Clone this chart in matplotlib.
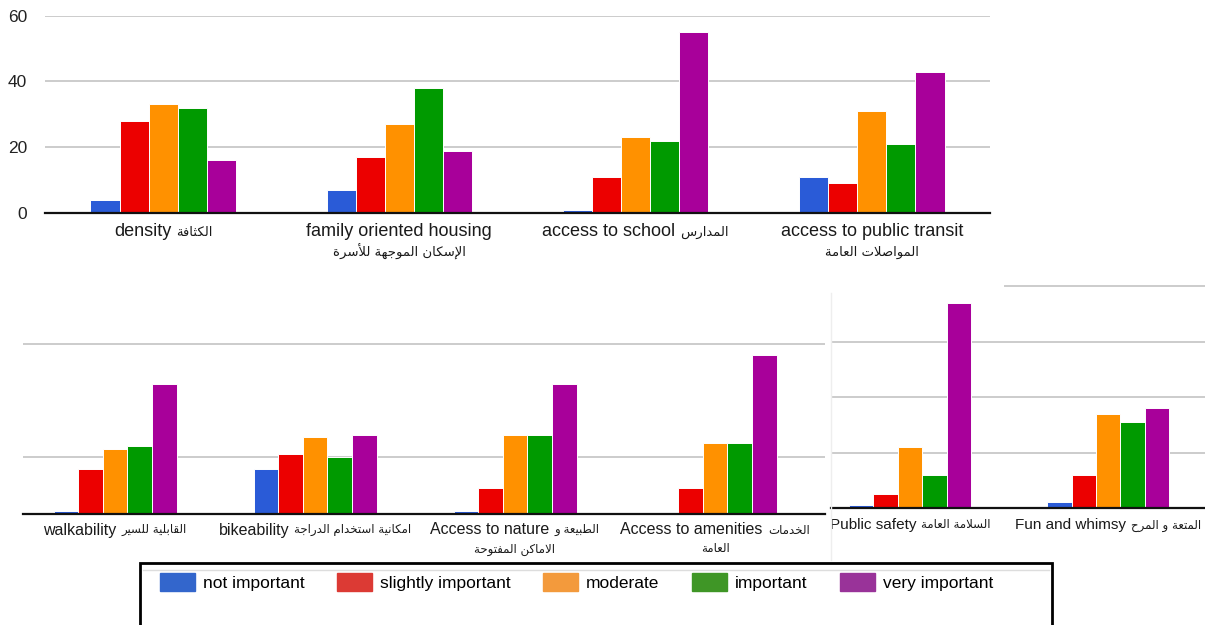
import matplotlib
matplotlib.use('Agg')
import matplotlib.pyplot as plt
from matplotlib.patches import Patch, Rectangle
from matplotlib.lines import Line2D
import numpy as np

plt.rcParams['font.family'] = ['Liberation Sans', 'DejaVu Sans']

W, H = 1205, 625

series = ['not important', 'slightly important', 'moderate', 'important', 'very important']
bar_colors = ['#2a5bd7', '#ec0000', '#ff9100', '#009a00', '#a8009a']
legend_colors = ['#3366cc', '#dc3a34', '#f39a3c', '#3f9626', '#993399']

# upper chart: english label, arabic on the same line, arabic on a second line
top_en = ['density', 'family oriented housing', 'access to school', 'access to public transit']
top_ar = ['الكثافة', '', 'المدارس', '']
top_ar2 = ['', 'الإسكان الموجهة للأسرة', '', 'المواصلات العامة']
top_counts = [
    [4, 7, 1, 11],
    [28, 17, 11, 9],
    [33, 27, 23, 31],
    [32, 38, 22, 21],
    [16, 19, 55, 43],
]

# lower left chart
mid_en = ['walkability', 'bikeability', 'Access to nature', 'Access to amenities']
mid_ar = ['القابلية للسير', 'امكانية استخدام الدراجة', 'الطبيعة و', 'الخدمات']
mid_ar2 = ['', '', 'الاماكن المفتوحة', 'العامة']
mid_counts = [
    [1, 16, 1, 0],
    [16, 21, 9, 9],
    [23, 27, 28, 25],
    [24, 20, 28, 25],
    [46, 28, 46, 56],
]

# lower right chart
side_en = ['Public safety', 'Fun and whimsy']
side_ar = ['السلامة العامة', 'المتعة و المرح']
side_ar2 = ['', '']
side_counts = [
    [1, 2],
    [5, 12],
    [22, 34],
    [12, 31],
    [74, 36],
]

# arabic presentation forms: isolated code point, joins to the following letter
FORMS = {
    'ا': (0xFE8D, False), 'أ': (0xFE83, False), 'إ': (0xFE87, False),
    'ب': (0xFE8F, True), 'ة': (0xFE93, False), 'ت': (0xFE95, True),
    'ث': (0xFE99, True), 'ج': (0xFE9D, True), 'ح': (0xFEA1, True),
    'خ': (0xFEA5, True), 'د': (0xFEA9, False), 'ر': (0xFEAD, False),
    'س': (0xFEB1, True), 'ص': (0xFEB9, True), 'ط': (0xFEC1, True),
    'ع': (0xFEC9, True), 'ف': (0xFED1, True), 'ق': (0xFED5, True),
    'ك': (0xFED9, True), 'ل': (0xFEDD, True), 'م': (0xFEE1, True),
    'ن': (0xFEE5, True), 'ه': (0xFEE9, True), 'و': (0xFEED, False),
    'ي': (0xFEF1, True),
}
LAM_ALEF = {'ا': 0xFEFB, 'أ': 0xFEF7, 'إ': 0xFEF9}


def shape(text):
    # contextual letter forms, then reversed so it reads right to left
    chars = []
    i = 0
    while i < len(text):
        c = text[i]
        if c == 'ل' and i + 1 < len(text) and text[i + 1] in LAM_ALEF:
            chars.append(('LA', text[i + 1]))
            i += 2
        else:
            chars.append((c, None))
            i += 1
    out = []
    for k, (c, alef) in enumerate(chars):
        prev = chars[k - 1][0] if k > 0 else None
        nxt = chars[k + 1][0] if k + 1 < len(chars) else None
        joins_prev = prev in FORMS and FORMS[prev][1]
        if c == 'LA':
            out.append(chr(LAM_ALEF[alef] + (1 if joins_prev else 0)))
            continue
        if c not in FORMS:
            out.append(c)
            continue
        base, dual = FORMS[c]
        joins_next = dual and (nxt in FORMS or nxt == 'LA')
        if joins_prev and joins_next:
            off = 3
        elif joins_prev:
            off = 1
        elif joins_next:
            off = 2
        else:
            off = 0
        out.append(chr(base + off))
    return ''.join(reversed(out))


fig = plt.figure(figsize=(W / 100, H / 100), dpi=100)


def panel(x0, y0, x1, y1):
    ax = fig.add_axes([x0 / W, 1 - y1 / H, (x1 - x0) / W, (y1 - y0) / H])
    for s in ax.spines.values():
        s.set_visible(False)
    ax.spines['bottom'].set_visible(True)
    ax.spines['bottom'].set_color('#111111')
    ax.spines['bottom'].set_linewidth(1.6)
    ax.spines['bottom'].set_zorder(5)
    ax.set_xticks([])
    ax.tick_params(length=0)
    ax.yaxis.grid(True, color='#cccccc', linewidth=1.4)
    ax.set_axisbelow(True)
    return ax


def draw_bars(ax, counts):
    x = np.arange(len(counts[0]))
    width = 0.123
    for i, (vals, c) in enumerate(zip(counts, bar_colors)):
        ax.bar(x + (i - 2) * width, vals, width, color=c, edgecolor='white',
               linewidth=0.7, zorder=3)


labels = []


def add_labels(ax, en, ar, ar2, dy1, dy2, en_size, ar_size):
    for i, (e, a, a2) in enumerate(zip(en, ar, ar2)):
        t1 = ax.annotate(e, xy=(i, 0), xycoords=('data', 'axes fraction'),
                         xytext=(0, -dy1), textcoords='offset pixels',
                         ha='left', va='center', fontsize=en_size, color='#1a1a1a')
        t2 = None
        if a:
            t2 = ax.annotate(shape(a), xy=(i, 0), xycoords=('data', 'axes fraction'),
                             xytext=(0, -dy1), textcoords='offset pixels',
                             ha='left', va='center', fontsize=ar_size,
                             family='DejaVu Sans', color='#1a1a1a')
        labels.append((t1, t2, dy1))
        if a2:
            ax.annotate(shape(a2), xy=(i, 0), xycoords=('data', 'axes fraction'),
                        xytext=(0, -dy2), textcoords='offset pixels',
                        ha='center', va='center', fontsize=ar_size,
                        family='DejaVu Sans', color='#1a1a1a')


# upper chart
ax_top = panel(45, 15.7, 990, 213)
draw_bars(ax_top, top_counts)
ax_top.set_xlim(-0.5, 3.5)
ax_top.set_ylim(0, 60)
ax_top.set_yticks([0, 20, 40, 60])
ax_top.tick_params(axis='y', labelsize=12.5, pad=13, labelcolor='#222222')
add_labels(ax_top, top_en, top_ar, top_ar2, 19, 39, 13, 9.5)

# lower left chart
ax_mid = panel(23, 290, 825, 514)
draw_bars(ax_mid, mid_counts)
ax_mid.set_xlim(-0.46, 3.55)
ax_mid.set_ylim(0, 224 / 2.835)
ax_mid.set_yticks([20, 60])
ax_mid.set_yticklabels([])
add_labels(ax_mid, mid_en, mid_ar, mid_ar2, 16, 35, 11.5, 8.5)

# lower right chart
ax_side = panel(831, 286.4, 1205, 508)
draw_bars(ax_side, side_counts)
ax_side.set_xlim(-0.399, 1.489)
ax_side.set_ylim(0, 80)
ax_side.set_yticks([20, 40, 60])
ax_side.set_yticklabels([])
ax_side.axhline(80, xmin=(1005 - 831) / 374, xmax=1, color='#cccccc',
                linewidth=1.4, clip_on=False)
add_labels(ax_side, side_en, side_ar, side_ar2, 17, 36, 11, 8.5)
fig.add_artist(Line2D([831 / W, 831 / W], [1 - 293 / H, 1 - 560 / H],
                      color='#eeeeee', linewidth=1))

# center each english + arabic pair under its group
fig.canvas.draw()
renderer = fig.canvas.get_renderer()
for t1, t2, dy in labels:
    w1 = t1.get_window_extent(renderer).width
    w2 = t2.get_window_extent(renderer).width if t2 is not None else 0
    gap = 5 if t2 is not None else 0
    left = -(w1 + gap + w2) / 2
    t1.xyann = (left, -dy)
    if t2 is not None:
        t2.xyann = (left + w1 + gap, -dy)

# legend in its framed box
fig.add_artist(Rectangle((140 / W, -0.02), (1052 - 140) / W, (1 - 563 / H) + 0.02,
                         transform=fig.transFigure, fill=False,
                         edgecolor='black', linewidth=2))
fig.add_artist(Line2D([143 / W, 1049 / W], [1 - 570 / H, 1 - 570 / H],
                      color='#dddddd', linewidth=1))
handles = [Patch(facecolor=c, edgecolor=c) for c in legend_colors]
fig.legend(handles, series, loc='center left', bbox_to_anchor=(160 / W, 1 - 582 / H),
           ncol=5, frameon=False, fontsize=12.5, handlelength=2.0, handleheight=1.3,
           handletextpad=0.45, columnspacing=1.9, borderpad=0, borderaxespad=0)

fig.savefig('out.png', dpi=100)
